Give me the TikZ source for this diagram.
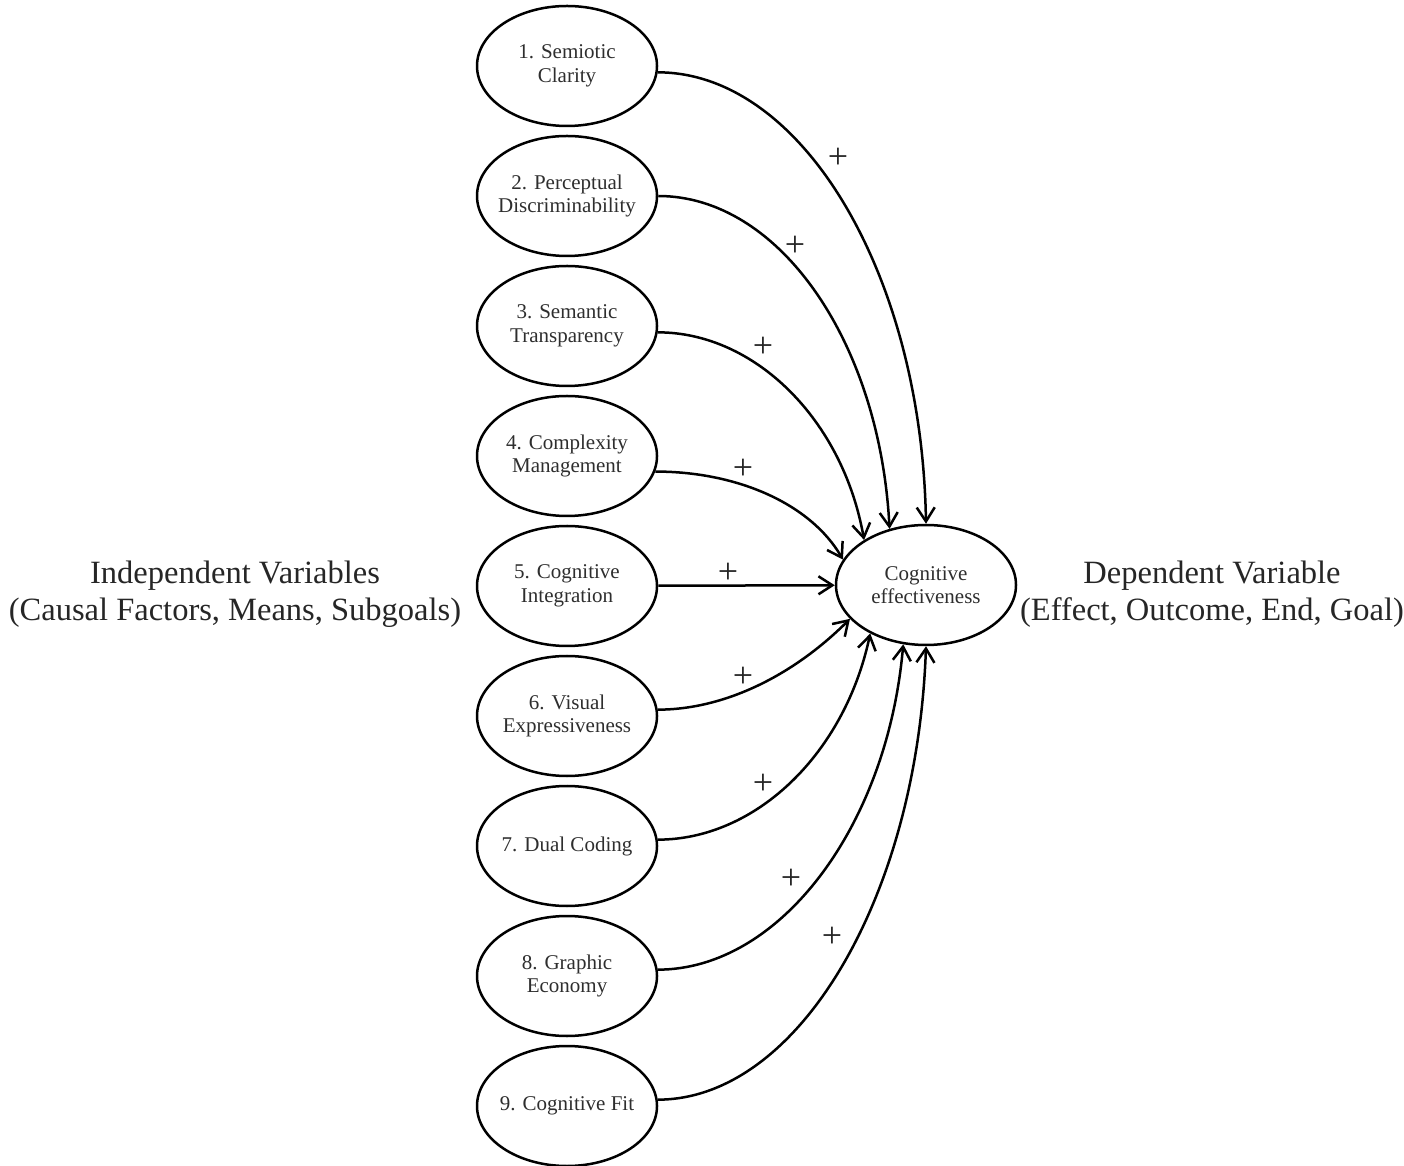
\documentclass[tikz,border=0pt]{standalone}
\usepackage{fontspec}
\setmainfont{Liberation Serif}
\usetikzlibrary{shapes.geometric,arrows.meta}

\begin{document}
\begin{tikzpicture}[x=1pt,y=1pt,
  factor/.style={ellipse, draw=black, line width=2.5pt, minimum width=180pt,
    minimum height=120pt, inner sep=-14pt, align=center, text=black!82,
    font=\fontsize{21}{23.5}\selectfont},
  link/.style={line width=2.5pt, -{Straight Barb[length=14pt,width=18pt]}},
  sign/.style={inner sep=0pt, text=black!85, font=\fontsize{36}{36}\selectfont},
  heading/.style={align=center, inner sep=0pt, text=black!85,
    font=\fontsize{32.5}{37}\selectfont}]
\useasboundingbox (0,0) rectangle (1404,1165);

% independent variables
\node[factor] (f1) at (567,1099) {1. Semiotic\\Clarity};
\node[factor] (f2) at (567,969)  {2. Perceptual\\Discriminability};
\node[factor] (f3) at (567,839)  {3. Semantic\\Transparency};
\node[factor] (f4) at (567,709)  {4. Complexity\\Management};
\node[factor] (f5) at (567,579)  {5. Cognitive\\Integration};
\node[factor] (f6) at (567,449)  {6. Visual\\Expressiveness};
\node[factor] (f7) at (567,319)  {7. Dual Coding};
\node[factor] (f8) at (567,189)  {8. Graphic\\Economy};
\node[factor] (f9) at (567,59)   {9. Cognitive Fit};

% dependent variable
\node[factor] (ce) at (926,580) {Cognitive\\effectiveness};

% side headings
\node[heading] (iv) at (235,571) {Independent Variables\\(Causal Factors, Means, Subgoals)};
\node[heading] (dv) at (1212,571) {Dependent Variable\\(Effect, Outcome, End, Goal)};

% causal links
\draw[link] (f1.-4.5) to[out=0, in=91,  out distance=144pt, in distance=250pt] (ce.90);
\draw[link] (f2.0)    to[out=0, in=93,  out distance=121pt, in distance=187pt] (ce.123);
\draw[link] (f3.-4.5) to[out=0, in=100, out distance=98pt,  in distance=121pt] (ce.144);
\draw[link] (f4.-10)  to[out=0, in=120, out distance=84pt,  in distance=63pt]  (ce.163);
\draw[link] (f5) -- (ce);
\draw[link] (f6.4.5)  to[out=0, in=225, out distance=66pt,  in distance=81pt]  (ce.204);
\draw[link] (f7.4)    to[out=0, in=258, out distance=98pt,  in distance=123pt] (ce.221);
\draw[link] (f8.4)    to[out=0, in=265, out distance=122pt, in distance=183pt] (ce.249);
\draw[link] (f9.4)    to[out=0, in=268, out distance=140pt, in distance=252pt] (ce.270);

% signs of the links
\node[sign] (p1) at (838,1007) {+};
\node[sign] (p2) at (795,919)  {+};
\node[sign] (p3) at (763,818)  {+};
\node[sign] (p4) at (743,696)  {+};
\node[sign] (p5) at (728,592)  {+};
\node[sign] (p6) at (743,488)  {+};
\node[sign] (p7) at (763,381)  {+};
\node[sign] (p8) at (791,286)  {+};
\node[sign] (p9) at (832,228)  {+};
\end{tikzpicture}
\end{document}
